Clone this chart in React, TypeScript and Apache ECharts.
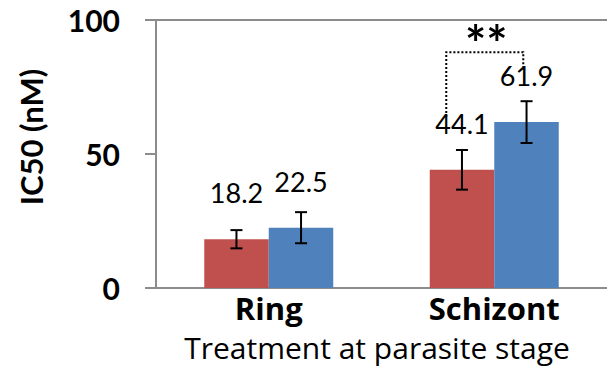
import React, { useEffect, useRef } from "react";
import * as echarts from "echarts";

const categories = ["Ring", "Schizont"];
const redValues = [18.2, 44.1];
const blueValues = [22.5, 61.9];
const redErrors = [3.4, 7.4];
const blueErrors = [5.8, 7.8];
const yTicks = [0, 50, 100];

const RED = "#C0504D";
const BLUE = "#4F81BD";
const AXIS = "#8C8C8C";
const FONT = "Lato, 'Open Sans', sans-serif";
const WIDE = "'Open Sans', Lato, sans-serif";

export default function App() {
  const ref = useRef<HTMLDivElement>(null);
  useEffect(() => {
    if (!ref.current) return;
    const chart = echarts.init(ref.current, null, { renderer: "svg" });
    const errData = (vals: number[], errs: number[], side: number) =>
      vals.map((v, i) => [i, v, errs[i], side]);
    const renderErr = (params: any, api: any) => {
      const ci = api.value(0);
      const v = api.value(1);
      const e = api.value(2);
      const side = api.value(3);
      const band = api.size([1, 0])[0];
      const x = api.coord([ci, v])[0] + side * band * 0.1432;
      const top = api.coord([ci, v + e])[1];
      const bot = api.coord([ci, v - e])[1];
      const cap = 6;
      const style = { stroke: "#000", lineWidth: 2 };
      return {
        type: "group",
        children: [
          { type: "line", shape: { x1: x, y1: top, x2: x, y2: bot }, style },
          { type: "line", shape: { x1: x - cap, y1: top, x2: x + cap, y2: top }, style },
          { type: "line", shape: { x1: x - cap, y1: bot, x2: x + cap, y2: bot }, style },
        ],
      };
    };
    const labelCfg = {
      show: true,
      position: "top",
      distance: 33,
      color: "#000",
      fontFamily: FONT,
      fontSize: 27,
      formatter: (p: any) => p.value.toFixed(1),
    };
    const baseGraphic = [
      {
        id: "yname",
        type: "text",
        x: 31,
        y: 137,
        rotation: Math.PI / 2,
        style: {
          text: "IC50 (nM)",
          fill: "#000",
          font: `bold 31px ${FONT}`,
          textAlign: "center",
          textVerticalAlign: "middle",
        },
      },
      {
        id: "xname",
        type: "text",
        x: 377,
        y: 347,
        style: {
          text: "Treatment at parasite stage",
          fill: "#000",
          fontFamily: WIDE,
          fontSize: 30,
          lineHeight: 28,
          align: "center",
          verticalAlign: "middle",
        },
      },
    ];
    chart.setOption({
      animation: false,
      grid: { left: 156, right: -3, top: 20, bottom: 80 },
      xAxis: [
        {
          type: "category",
          data: categories,
          axisLine: { lineStyle: { color: AXIS, width: 2 } },
          axisTick: { show: false },
          axisLabel: {
            margin: 7,
            color: "#000",
            fontFamily: WIDE,
            fontWeight: "bold",
            fontSize: 31,
            lineHeight: 26,
          },
        },
        {
          type: "category",
          data: categories,
          position: "top",
          axisLine: { show: true, lineStyle: { color: AXIS, width: 2 } },
          axisTick: { show: false },
          axisLabel: { show: false },
        },
      ],
      yAxis: {
        type: "value",
        min: yTicks[0],
        max: yTicks[yTicks.length - 1],
        interval: 50,
        splitLine: { show: false },
        axisLine: { show: true, lineStyle: { color: AXIS, width: 2 } },
        axisTick: { show: true, length: 11, lineStyle: { color: AXIS, width: 2 } },
        axisLabel: {
          margin: 36,
          color: "#000",
          fontFamily: FONT,
          fontWeight: "bold",
          fontSize: 30,
        },
      },
      series: [
        {
          type: "bar",
          data: redValues,
          barWidth: "28.6%",
          barGap: "0%",
          itemStyle: { color: RED },
          label: labelCfg,
        },
        {
          type: "bar",
          data: blueValues,
          barWidth: "28.6%",
          barGap: "0%",
          itemStyle: { color: BLUE },
          label: labelCfg,
        },
        {
          type: "custom",
          renderItem: renderErr,
          data: errData(redValues, redErrors, -1),
          encode: { x: 0, y: 1 },
          z: 10,
        },
        {
          type: "custom",
          renderItem: renderErr,
          data: errData(blueValues, blueErrors, 1),
          encode: { x: 0, y: 1 },
          z: 10,
        },
      ],
      graphic: baseGraphic,
    });
    // significance bracket, positioned through the chart's scales
    const c = chart.convertToPixel({ xAxisIndex: 0, yAxisIndex: 0 }, ["Schizont", 88]) as number[];
    const yRight = (chart.convertToPixel({ yAxisIndex: 0 }, 82.5) as unknown) as number;
    const yLeft = (chart.convertToPixel({ yAxisIndex: 0 }, 63.8) as unknown) as number;
    const yStars = (chart.convertToPixel({ yAxisIndex: 0 }, 94.2) as unknown) as number;
    const xl = c[0] - 48;
    const xr = c[0] + 29;
    chart.setOption({
      graphic: [
        ...baseGraphic,
        {
          id: "bracket",
          type: "polyline",
          shape: { points: [[xl, yLeft], [xl, c[1]], [xr, c[1]], [xr, yRight]] },
          style: { stroke: "#000", lineWidth: 2, lineDash: [2, 2], fill: null },
        },
        {
          id: "stars",
          type: "text",
          x: c[0] - 8,
          y: yStars + 7,
          style: {
            text: "**",
            fill: "#000",
            font: `bold 50px ${FONT}`,
            textAlign: "center",
            textVerticalAlign: "middle",
          },
        },
      ],
    });
    return () => chart.dispose();
  }, []);
  return <div ref={ref} style={{ width: 607, height: 368, position: "absolute", left: 0, top: 0 }} />;
}
